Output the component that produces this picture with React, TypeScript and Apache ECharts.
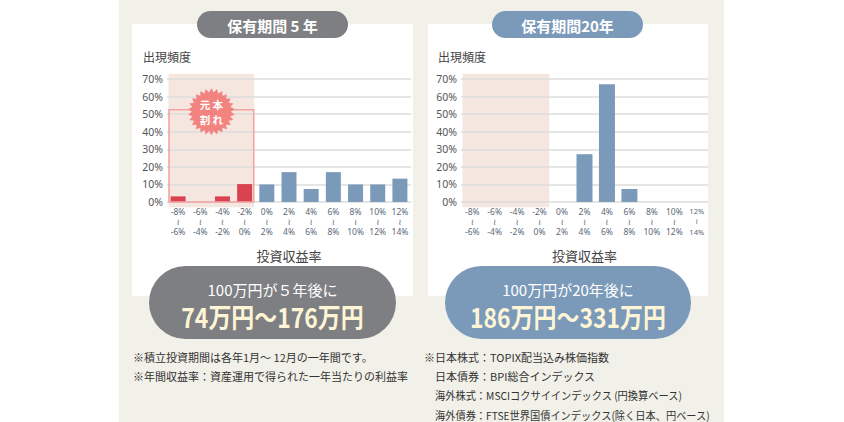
import React, { useEffect, useRef } from 'react';
import * as echarts from 'echarts';

// ---- data ----
const binLows = ['-8%', '-6%', '-4%', '-2%', '0%', '2%', '4%', '6%', '8%', '10%', '12%'];
const binHighs = ['-6%', '-4%', '-2%', '0%', '2%', '4%', '6%', '8%', '10%', '12%', '14%'];
const categories = binLows.map((lo, i) => `${lo}\n≀\n${binHighs[i]}`);
const freq5y = [3.2, 0, 3.2, 10.2, 10, 17, 7.4, 17, 10, 10, 13.3];
const freq20y = [0, 0, 0, 0, 0, 27.2, 67, 7.4, 0, 0, 0];
const yMax = 70;
const yInterval = 10;
const lossBins = 4;
const lossOutlinePct = 52.5;
const panelTitles = ['保有期間 5 年', '保有期間20年'];
const resultLead = ['100万円が５年後に', '100万円が20年後に'];
const resultRange = ['74万円〜176万円', '186万円〜331万円'];
const yAxisTitle = '出現頻度';
const xAxisTitle = '投資収益率';
const badgeLines = ['元本', '割れ'];
const notesLeft = [
  '※積立投資期間は各年1月～ 12月の一年間です。',
  '※年間収益率：資産運用で得られた一年当たりの利益率',
];
const notesRight = [
  '※日本株式：TOPIX配当込み株価指数',
  '日本債券：BPI総合インデックス',
  '海外株式：MSCIコクサイインデックス (円換算ベース)',
  '海外債券：FTSE世界国債インデックス(除く日本、円ベース)',
];

const FONT = '"Noto Sans CJK JP", "Noto Sans", sans-serif';
const RED = '#d8434f';
const BLUE = '#7b9aba';
const GRAY = '#7e7f82';
const CREAM = '#f1f0e9';

export default function App() {
  const ref = useRef<HTMLDivElement>(null);
  useEffect(() => {
    if (!ref.current) return;
    const chart = echarts.init(ref.current, undefined, { renderer: 'svg' });
    const grids = [
      { left: 167, top: 79, width: 244, height: 123 },
      { left: 461, top: 79, width: 247, height: 123 },
    ];
    const xAxis = grids.map((_, gi) => ({
      type: 'category',
      gridIndex: gi,
      data: categories,
      axisLine: { show: false },
      axisTick: { show: false },
      axisLabel: {
        interval: 0,
        margin: 4,
        fontSize: 8.5,
        lineHeight: 10.2,
        color: '#5a6878',
        fontFamily: '"Noto Sans", "DejaVu Sans", sans-serif',
        formatter: (v: string, i: number) =>
          gi === 1 && i === categories.length - 1
            ? v.split('\n').map((s) => `{s|${s}}`).join('\n')
            : v,
        rich: { s: { fontSize: 7.5, lineHeight: 10.2, color: '#5a6878' } },
      },
      name: xAxisTitle,
      nameLocation: 'middle',
      nameGap: 47,
      nameTextStyle: { fontSize: 13, color: '#444', fontFamily: FONT },
    }));
    const yAxis = grids.map((_, gi) => ({
      type: 'value',
      gridIndex: gi,
      min: 0,
      max: yMax,
      interval: yInterval,
      axisLine: { show: false },
      axisTick: { show: false },
      axisLabel: {
        formatter: '{value}%',
        fontSize: 10.5,
        color: '#555',
        margin: 4,
        fontFamily: '"Noto Sans", sans-serif',
      },
      splitLine: { lineStyle: { color: '#dcdcdc', width: 1.5 } },
    }));
    const mkData = (arr: number[]) =>
      arr.map((v, i) => ({ value: v, itemStyle: { color: i < lossBins ? RED : BLUE } }));
    chart.setOption({
      animation: false,
      backgroundColor: '#ffffff',
      grid: grids,
      xAxis,
      yAxis,
      series: [
        { type: 'bar', xAxisIndex: 0, yAxisIndex: 0, data: mkData(freq5y), barWidth: 15 },
        { type: 'bar', xAxisIndex: 1, yAxisIndex: 1, data: mkData(freq20y), barWidth: 16 },
      ],
    });

    const px = (gi: number, c: number, v: number) =>
      chart.convertToPixel({ gridIndex: gi } as any, [c, v]) as number[];

    const elements: any[] = [];
    elements.push({ type: 'rect', z: -20, shape: { x: 119, y: 0, width: 605, height: 422 }, style: { fill: CREAM } });
    const panels = [
      { x: 132, w: 281 },
      { x: 428, w: 280 },
    ];
    panels.forEach((p) => {
      elements.push({ type: 'rect', z: -15, shape: { x: p.x, y: 24, width: p.w, height: 272 }, style: { fill: '#ffffff' } });
    });

    [0, 1].forEach((gi) => {
      const c0 = px(gi, 0, 0)[0];
      const c1 = px(gi, 1, 0)[0];
      const band = c1 - c0;
      const left = c0 - band / 2 + 1.5;
      const right = px(gi, lossBins - 1, 0)[0] + band / 2 - 1.5;
      const top = px(gi, 0, yMax + 3)[1];
      const bottom = px(gi, 0, -3)[1];
      elements.push({
        type: 'rect',
        z: -10,
        shape: { x: left, y: top, width: right - left, height: bottom - top },
        style: { fill: '#f5e6df' },
      });
      if (gi === 0) {
        const oy = px(gi, 0, lossOutlinePct)[1];
        const oyb = px(gi, 0, 0)[1];
        elements.push({
          type: 'rect',
          z: 5,
          shape: { x: left + 0.5, y: oy, width: right - left - 1, height: oyb - oy },
          style: { fill: 'none', stroke: '#f1a3a1', lineWidth: 1.5 },
        });
        const bx = (left + right) / 2;
        const by = oy + 2;
        const pts: number[][] = [];
        const n = 26;
        for (let k = 0; k < n * 2; k++) {
          const r = k % 2 === 0 ? 23.5 : 19.5;
          const a = (Math.PI * k) / n - Math.PI / 2;
          pts.push([bx + r * Math.cos(a), by + r * Math.sin(a)]);
        }
        elements.push({ type: 'polygon', z: 6, shape: { points: pts }, style: { fill: '#f2837f' } });
        elements.push({
          type: 'text',
          z: 7,
          x: bx,
          y: by,
          style: {
            text: badgeLines.map((t) => t.split('').join(' ')).join('\n'),
            fill: '#ffffff',
            fontSize: 10.5,
            lineHeight: 15.5,
            fontWeight: 'bold',
            fontFamily: FONT,
            align: 'center',
            verticalAlign: 'middle',
          },
        });
      }
    });

    [{ x: 143 }, { x: 438 }].forEach((p) => {
      elements.push({
        type: 'text',
        z: 5,
        x: p.x,
        y: 56,
        style: { text: yAxisTitle, fill: '#444', fontSize: 12, fontFamily: FONT, verticalAlign: 'middle' },
      });
    });

    const titlePills = [
      { x: 197, w: 151, color: GRAY },
      { x: 492, w: 151, color: BLUE },
    ];
    titlePills.forEach((p, i) => {
      elements.push({
        type: 'rect',
        z: 5,
        shape: { x: p.x, y: 11, width: p.w, height: 27, r: 13.5 },
        style: { fill: p.color },
      });
      elements.push({
        type: 'text',
        z: 6,
        x: p.x + p.w / 2,
        y: 25,
        style: {
          text: panelTitles[i],
          fill: '#ffffff',
          fontSize: 15,
          fontWeight: 'bold',
          fontFamily: FONT,
          align: 'center',
          verticalAlign: 'middle',
        },
      });
    });

    const resultPills = [
      { x: 149, w: 247, color: GRAY },
      { x: 445, w: 246, color: BLUE },
    ];
    resultPills.forEach((p, i) => {
      elements.push({
        type: 'rect',
        z: 5,
        shape: { x: p.x, y: 266, width: p.w, height: 73, r: 36.5 },
        style: { fill: p.color },
      });
      elements.push({
        type: 'text',
        z: 6,
        x: p.x + p.w / 2,
        y: 289,
        style: {
          text: resultLead[i],
          fill: '#ffffff',
          fontSize: 15,
          fontFamily: FONT,
          align: 'center',
          verticalAlign: 'middle',
        },
      });
      elements.push({
        type: 'text',
        z: 6,
        x: p.x + p.w / 2,
        y: 316,
        scaleX: 0.85,
        style: {
          text: resultRange[i],
          fill: '#fdf5d6',
          fontSize: 27,
          fontWeight: 'bold',
          fontFamily: FONT,
          align: 'center',
          verticalAlign: 'middle',
        },
      });
    });

    notesLeft.forEach((t, k) => {
      elements.push({
        type: 'text',
        z: 5,
        x: 133,
        y: 357 + k * 19.3,
        style: { text: t, fill: '#333', fontSize: 11, fontFamily: FONT, verticalAlign: 'middle' },
      });
    });
    notesRight.forEach((t, k) => {
      elements.push({
        type: 'text',
        z: 5,
        x: k === 0 ? 424 : 435,
        y: 357 + k * 19.3,
        scaleX: k >= 2 ? 0.93 : 1,
        style: { text: t, fill: '#333', fontSize: 11, fontFamily: FONT, verticalAlign: 'middle' },
      });
    });

    chart.setOption({ graphic: { elements } });
    return () => chart.dispose();
  }, []);
  return (
    <div
      ref={ref}
      style={{ position: 'fixed', left: 0, top: 0, width: 844, height: 422 }}
    />
  );
}
